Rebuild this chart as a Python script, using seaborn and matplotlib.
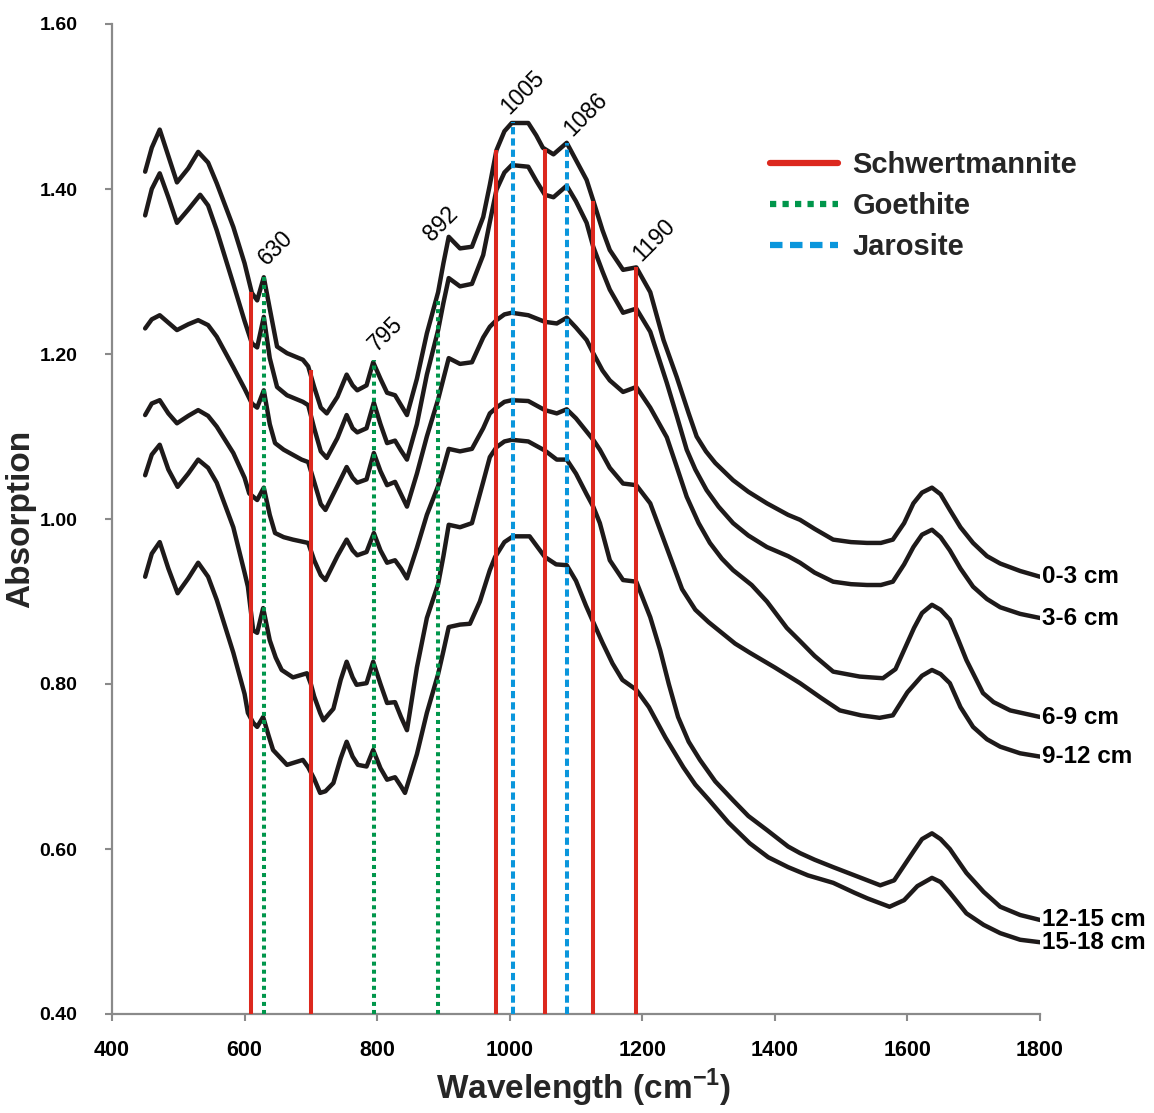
import numpy as np
import pandas as pd
import matplotlib
matplotlib.use("Agg")
import matplotlib.pyplot as plt
from matplotlib.lines import Line2D
from matplotlib import font_manager as fm
import seaborn as sns

# ---------------- data ----------------
samples = ["0-3 cm", "3-6 cm", "6-9 cm", "9-12 cm", "12-15 cm", "15-18 cm"]

x_0_3 = [450, 460, 472, 485, 498, 515, 530, 545, 558, 583, 600, 611, 619, 629, 638, 649, 664, 688, 696, 705,
         715, 724, 740, 754, 763, 770, 784, 794, 805, 815, 827, 836, 845, 860, 875, 892, 900, 908, 925, 943,
         960, 970, 980, 992, 1003, 1028, 1040, 1050, 1066, 1086, 1100, 1116, 1126, 1140, 1151, 1171, 1191,
         1212, 1232, 1252, 1270, 1282, 1296, 1310, 1337, 1360, 1388, 1420, 1438, 1460, 1488, 1515, 1539,
         1560, 1578, 1595, 1609, 1622, 1637, 1650, 1664, 1680, 1699, 1720, 1740, 1770, 1800]
y_0_3 = [1.421, 1.450, 1.472, 1.440, 1.408, 1.425, 1.445, 1.432, 1.407, 1.354, 1.310, 1.274, 1.265, 1.293,
         1.255, 1.209, 1.201, 1.193, 1.185, 1.160, 1.135, 1.128, 1.148, 1.175, 1.162, 1.156, 1.162, 1.190,
         1.170, 1.153, 1.150, 1.138, 1.126, 1.170, 1.225, 1.275, 1.310, 1.342, 1.328, 1.330, 1.366, 1.405,
         1.447, 1.470, 1.480, 1.480, 1.465, 1.450, 1.442, 1.456, 1.435, 1.411, 1.386, 1.350, 1.326, 1.302,
         1.305, 1.275, 1.217, 1.172, 1.128, 1.100, 1.082, 1.068, 1.047, 1.033, 1.019, 1.005, 0.999, 0.988,
         0.975, 0.972, 0.971, 0.971, 0.975, 0.995, 1.019, 1.032, 1.038, 1.030, 1.011, 0.990, 0.971, 0.955,
         0.946, 0.937, 0.930]

x_3_6 = [450, 460, 472, 485, 498, 515, 533, 545, 558, 583, 600, 611, 619, 629, 638, 649, 664, 688, 696, 705,
         715, 724, 740, 754, 763, 770, 784, 795, 805, 815, 827, 836, 845, 860, 875, 892, 900, 908, 925, 943,
         960, 970, 980, 992, 1003, 1028, 1040, 1053, 1066, 1086, 1100, 1116, 1126, 1140, 1151, 1171, 1191,
         1212, 1237, 1252, 1267, 1280, 1297, 1315, 1337, 1360, 1388, 1420, 1438, 1460, 1488, 1515, 1539,
         1560, 1578, 1595, 1609, 1622, 1637, 1650, 1664, 1680, 1699, 1720, 1740, 1770, 1800]
y_3_6 = [1.368, 1.400, 1.419, 1.390, 1.359, 1.375, 1.393, 1.380, 1.350, 1.285, 1.240, 1.213, 1.208, 1.245,
         1.195, 1.160, 1.150, 1.142, 1.138, 1.110, 1.082, 1.074, 1.098, 1.126, 1.110, 1.105, 1.110, 1.141,
         1.115, 1.092, 1.095, 1.083, 1.072, 1.115, 1.175, 1.229, 1.262, 1.292, 1.282, 1.285, 1.320, 1.360,
         1.399, 1.420, 1.429, 1.427, 1.410, 1.393, 1.390, 1.404, 1.385, 1.359, 1.330, 1.300, 1.278, 1.250,
         1.255, 1.227, 1.165, 1.125, 1.084, 1.060, 1.035, 1.015, 0.995, 0.980, 0.966, 0.955, 0.947, 0.935,
         0.924, 0.921, 0.920, 0.920, 0.924, 0.945, 0.966, 0.981, 0.987, 0.978, 0.962, 0.940, 0.918, 0.903,
         0.893, 0.885, 0.880]

x_6_9 = [450, 460, 472, 485, 498, 515, 530, 545, 558, 583, 600, 611, 619, 629, 638, 646, 659, 686, 696, 705,
         715, 722, 740, 754, 763, 770, 784, 795, 805, 815, 827, 836, 845, 860, 875, 892, 900, 908, 925, 943,
         960, 970, 980, 992, 1003, 1028, 1053, 1071, 1086, 1100, 1116, 1126, 1140, 1151, 1171, 1191, 1212,
         1237, 1250, 1267, 1285, 1302, 1320, 1337, 1365, 1388, 1418, 1438, 1460, 1488, 1528, 1545, 1563,
         1582, 1610, 1622, 1637, 1650, 1664, 1676, 1689, 1714, 1730, 1755, 1800]
y_6_9 = [1.231, 1.242, 1.247, 1.238, 1.229, 1.236, 1.241, 1.235, 1.221, 1.184, 1.158, 1.140, 1.135, 1.156,
         1.115, 1.092, 1.084, 1.072, 1.069, 1.045, 1.018, 1.011, 1.040, 1.063, 1.050, 1.044, 1.048, 1.080,
         1.058, 1.041, 1.045, 1.030, 1.015, 1.055, 1.100, 1.145, 1.170, 1.195, 1.188, 1.190, 1.220, 1.233,
         1.241, 1.248, 1.250, 1.247, 1.239, 1.237, 1.244, 1.232, 1.217, 1.201, 1.180, 1.168, 1.154, 1.160,
         1.135, 1.099, 1.068, 1.027, 0.995, 0.971, 0.952, 0.938, 0.920, 0.900, 0.868, 0.852, 0.834, 0.815,
         0.809, 0.808, 0.807, 0.818, 0.868, 0.886, 0.896, 0.890, 0.878, 0.855, 0.829, 0.789, 0.778, 0.768,
         0.760]

x_9_12 = [450, 460, 472, 485, 498, 515, 530, 545, 558, 583, 600, 607, 619, 629, 638, 646, 659, 673, 696, 705,
          715, 722, 740, 754, 763, 770, 784, 795, 805, 815, 827, 836, 845, 860, 875, 892, 900, 908, 925, 943,
          960, 970, 980, 992, 1003, 1028, 1053, 1071, 1086, 1100, 1111, 1126, 1136, 1151, 1171, 1191, 1212,
          1237, 1260, 1280, 1300, 1320, 1340, 1362, 1400, 1438, 1470, 1498, 1530, 1558, 1578, 1600, 1622,
          1637, 1650, 1664, 1680, 1699, 1720, 1740, 1770, 1800]
y_9_12 = [1.126, 1.140, 1.144, 1.128, 1.116, 1.125, 1.132, 1.125, 1.112, 1.080, 1.050, 1.031, 1.023, 1.038,
          1.005, 0.983, 0.978, 0.975, 0.971, 0.950, 0.932, 0.926, 0.955, 0.975, 0.962, 0.956, 0.960, 0.983,
          0.962, 0.947, 0.950, 0.940, 0.928, 0.965, 1.005, 1.040, 1.062, 1.085, 1.082, 1.085, 1.110, 1.128,
          1.135, 1.142, 1.144, 1.143, 1.132, 1.128, 1.133, 1.122, 1.111, 1.096, 1.084, 1.062, 1.043, 1.041,
          1.019, 0.965, 0.915, 0.890, 0.875, 0.862, 0.849, 0.838, 0.820, 0.801, 0.783, 0.768, 0.762, 0.759,
          0.762, 0.790, 0.810, 0.817, 0.812, 0.801, 0.772, 0.748, 0.733, 0.724, 0.716, 0.712]

x_12_15 = [450, 460, 472, 485, 499, 515, 530, 545, 558, 583, 600, 605, 613, 619, 628, 638, 647, 656, 673, 694,
           700, 705, 714, 719, 734, 745, 754, 763, 769, 784, 794, 805, 815, 827, 836, 845, 860, 875, 892, 900,
           908, 925, 943, 960, 970, 980, 992, 1003, 1028, 1053, 1071, 1086, 1100, 1116, 1126, 1136, 1151,
           1171, 1191, 1212, 1227, 1240, 1254, 1270, 1287, 1310, 1337, 1360, 1388, 1420, 1438, 1460, 1488,
           1530, 1559, 1580, 1610, 1622, 1637, 1650, 1664, 1676, 1689, 1715, 1740, 1770, 1800]
y_12_15 = [1.053, 1.078, 1.090, 1.060, 1.039, 1.055, 1.072, 1.062, 1.044, 0.990, 0.935, 0.918, 0.865, 0.862,
           0.892, 0.853, 0.832, 0.817, 0.808, 0.813, 0.800, 0.785, 0.765, 0.756, 0.770, 0.805, 0.827, 0.808,
           0.799, 0.801, 0.827, 0.800, 0.777, 0.778, 0.760, 0.744, 0.820, 0.880, 0.921, 0.955, 0.993, 0.990,
           0.995, 1.045, 1.075, 1.087, 1.094, 1.096, 1.094, 1.083, 1.072, 1.072, 1.055, 1.030, 1.015, 0.995,
           0.950, 0.926, 0.924, 0.881, 0.841, 0.800, 0.760, 0.730, 0.708, 0.682, 0.659, 0.640, 0.623, 0.603,
           0.595, 0.587, 0.578, 0.565, 0.556, 0.562, 0.598, 0.612, 0.619, 0.612, 0.600, 0.586, 0.571, 0.548,
           0.530, 0.520, 0.514]

x_15_18 = [450, 460, 472, 485, 499, 515, 530, 545, 558, 583, 600, 605, 613, 619, 628, 636, 643, 664, 688, 696,
           705, 714, 722, 734, 745, 754, 763, 771, 784, 794, 805, 815, 827, 836, 842, 860, 875, 892, 900, 908,
           925, 940, 955, 970, 978, 992, 1005, 1030, 1053, 1070, 1086, 1100, 1115, 1126, 1140, 1155, 1170,
           1191, 1210, 1235, 1262, 1280, 1300, 1330, 1362, 1390, 1420, 1450, 1488, 1520, 1540, 1573, 1595,
           1615, 1637, 1650, 1664, 1676, 1689, 1715, 1740, 1770, 1800]
y_15_18 = [0.930, 0.958, 0.972, 0.940, 0.910, 0.928, 0.947, 0.930, 0.902, 0.838, 0.788, 0.765, 0.753, 0.748,
           0.760, 0.738, 0.720, 0.702, 0.708, 0.699, 0.685, 0.668, 0.670, 0.680, 0.710, 0.730, 0.712, 0.702,
           0.700, 0.720, 0.698, 0.684, 0.687, 0.676, 0.668, 0.715, 0.765, 0.812, 0.840, 0.869, 0.872, 0.873,
           0.900, 0.938, 0.954, 0.972, 0.979, 0.979, 0.954, 0.945, 0.944, 0.925, 0.895, 0.875, 0.850, 0.825,
           0.805, 0.793, 0.772, 0.735, 0.699, 0.678, 0.660, 0.632, 0.607, 0.590, 0.578, 0.568, 0.559, 0.547,
           0.540, 0.530, 0.538, 0.555, 0.565, 0.560, 0.547, 0.535, 0.522, 0.508, 0.498, 0.490, 0.487]

curve_x = [x_0_3, x_3_6, x_6_9, x_9_12, x_12_15, x_15_18]
curve_y = [y_0_3, y_3_6, y_6_9, y_9_12, y_12_15, y_15_18]

# reference band positions (cm-1) and the absorption where each marker line stops
schwert_x = [610, 700, 980, 1053, 1126, 1190]
schwert_top = [1.275, 1.181, 1.447, 1.448, 1.386, 1.305]
goethite_x = [630, 795, 892]
goethite_top = [1.293, 1.193, 1.269]
jarosite_x = [1005, 1086]
jarosite_top = [1.481, 1.456]

peak_labels = ["630", "795", "892", "1005", "1086", "1190"]
peak_label_x = [634, 800, 883, 1000, 1094, 1199]
peak_label_y = [1.307, 1.203, 1.336, 1.490, 1.463, 1.311]

legend_labels = ["Schwertmannite", "Goethite", "Jarosite"]
x_ticks = [400, 600, 800, 1000, 1200, 1400, 1600, 1800]
y_ticks = [0.40, 0.60, 0.80, 1.00, 1.20, 1.40, 1.60]

# ---------------- style ----------------
sns.set_theme(style="white")
plt.rcParams["font.family"] = ["Liberation Sans", "DejaVu Sans"]
names = {f.name for f in fm.fontManager.ttflist}
has_narrow = "Liberation Sans Narrow" in names
narrow = ["Liberation Sans Narrow", "Liberation Sans", "DejaVu Sans"] if has_narrow else ["Liberation Sans", "DejaVu Sans"]
axis_label_size = 30 if has_narrow else 24
plt.rcParams["mathtext.fontset"] = "custom"
plt.rcParams["mathtext.rm"] = narrow[0]
plt.rcParams["mathtext.bf"] = narrow[0] + ":bold"

RED = "#dc281e"
GREEN = "#00964b"
BLUE = "#0a96dc"
CURVE = "#1e1a1a"
AXIS = "#8a8a8a"

fig = plt.figure(figsize=(11.54, 11.13), dpi=100)
ax = fig.add_axes([112 / 1154, 1 - 1014 / 1113, (1040 - 112) / 1154, (1014 - 24) / 1113])

rows = []
for name, xs, ys in zip(samples, curve_x, curve_y):
    for xv, yv in zip(xs, ys):
        rows.append((name, xv, yv))
df = pd.DataFrame(rows, columns=["sample", "wavenumber", "absorption"])

for name in samples:
    sub = df[df["sample"] == name]
    sns.lineplot(data=sub, x="wavenumber", y="absorption", ax=ax, color=CURVE, lw=3.2,
                 estimator=None, sort=False, solid_joinstyle="round", solid_capstyle="round",
                 zorder=2, legend=False)
    ax.text(1803, sub["absorption"].iloc[-1], name, ha="left", va="center",
            fontsize=17.5, fontweight="bold", color="black", clip_on=False)

for xv, top in zip(schwert_x, schwert_top):
    ax.plot([xv, xv], [0.40, top], color=RED, lw=2.9, solid_capstyle="butt", zorder=3)
for xv, top in zip(goethite_x, goethite_top):
    ax.plot([xv, xv], [0.40, top], color=GREEN, lw=2.9, ls=(0, (1, 1)), dash_capstyle="butt", zorder=3)
for xv, top in zip(jarosite_x, jarosite_top):
    ax.plot([xv, xv], [0.40, top], color=BLUE, lw=2.9, ls=(0, (1.8, 1.0)), dash_capstyle="butt", zorder=3)

for lab, lx, ly in zip(peak_labels, peak_label_x, peak_label_y):
    ax.text(lx, ly, lab, rotation=45, rotation_mode="anchor", ha="left", va="baseline",
            fontsize=16.5, color="black")

handles = [Line2D([], [], color=RED, lw=4.5),
           Line2D([], [], color=GREEN, lw=4.5, ls=(0, (1, 1))),
           Line2D([], [], color=BLUE, lw=4.5, ls=(0, (2, 1.2)))]
ax.legend(handles, legend_labels, loc="upper left", bbox_to_anchor=(0.709, 0.872), frameon=False,
          prop={"weight": "bold", "size": 21}, handlelength=2.33, handletextpad=0.5,
          labelspacing=0.45, borderpad=0, borderaxespad=0)

ax.set_xlim(400, 1800)
ax.set_ylim(0.40, 1.60)
ax.set_xticks(x_ticks)
ax.set_yticks(y_ticks)
ax.set_yticklabels([f"{v:.2f}" for v in y_ticks])
ax.set_xticklabels([str(v) for v in x_ticks])
ax.tick_params(axis="y", direction="out", length=5, width=1.5, color=AXIS, pad=20, labelsize=14, left=True)
ax.tick_params(axis="x", direction="out", length=5, width=1.5, color=AXIS, pad=14, labelsize=15.5, bottom=True)
for lab in ax.get_xticklabels() + ax.get_yticklabels():
    lab.set_fontweight("bold")
    lab.set_color("black")

sns.despine(ax=ax)
for sp in ("left", "bottom"):
    ax.spines[sp].set_color(AXIS)
    ax.spines[sp].set_linewidth(1.6)
ax.grid(False)

ax.set_ylabel("Absorption", fontsize=axis_label_size, fontweight="bold", family=narrow, va="center")
ax.yaxis.set_label_coords((21 - 112) / 928, 0.5)
ax.set_xlabel(r"Wavelength (cm$^{\mathbf{-1}}$)", fontsize=axis_label_size, fontweight="bold",
              family=narrow, va="center")
ax.xaxis.set_label_coords((584 - 112) / 928, (1014 - 1088) / 990)

fig.savefig("out.png", dpi=100)
